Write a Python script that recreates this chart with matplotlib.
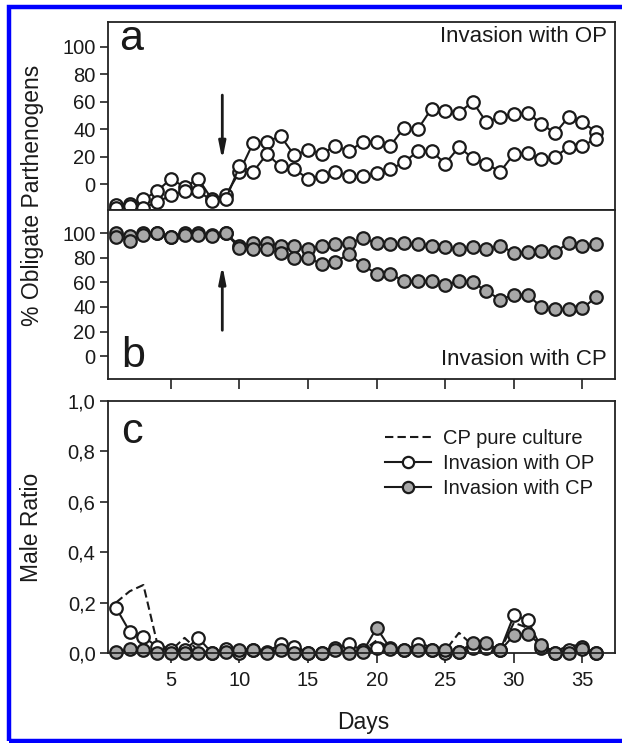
import matplotlib
matplotlib.use("Agg")
import matplotlib.pyplot as plt
from matplotlib.patches import Rectangle

plt.rcParams['font.family'] = ['Liberation Sans', 'DejaVu Sans']

days = list(range(1, 37))

# panel a: % obligate parthenogens, invasion with OP (two replicates)
op_high = [-15, -14, -11, -5, 4, -2, 4, -11, -8, 9, 30, 31, 35, 21, 25, 22, 28, 24,
           31, 31, 28, 41, 40, 55, 53, 52, 60, 45, 49, 51, 52, 44, 37, 49, 45, 38]
op_low = [-17, -16, -17, -13, -8, -5, -5, -12, -11, 13, 9, 22, 13, 11, 4, 6, 9, 6,
          6, 8, 11, 16, 24, 24, 15, 27, 19, 15, 9, 22, 23, 18, 20, 27, 28, 33]

# panel b: % obligate parthenogens, invasion with CP (two replicates)
cp_high = [100, 98, 100, 100, 97, 100, 100, 99, 100, 90, 92, 92, 90, 90, 87, 90, 91, 92,
           96, 92, 91, 92, 91, 90, 89, 87, 89, 87, 90, 84, 85, 86, 85, 92, 90, 91]
cp_low = [97, 94, 99, 100, 97, 99, 99, 98, 100, 88, 87, 87, 84, 80, 80, 75, 77, 83,
          74, 67, 67, 61, 61, 61, 58, 61, 60, 53, 46, 50, 50, 40, 38, 38, 39, 48]

# panel c: male ratio
male_cp_pure = [0.20, 0.245, 0.27, 0.04, 0.01, 0.06, 0.01, 0.0, 0.01, 0.02, 0.01, 0.005,
                0.03, 0.03, 0.0, 0.0, 0.03, 0.02, 0.01, 0.05, 0.02, 0.01, 0.045, 0.02,
                0.01, 0.08, 0.03, 0.02, 0.01, 0.12, 0.10, 0.03, 0.005, 0.03, 0.03, 0.01]
male_op = [0.18, 0.085, 0.065, 0.025, 0.01, 0.01, 0.06, 0.0, 0.015, 0.0, 0.01, 0.005,
           0.035, 0.025, 0.0, 0.0, 0.02, 0.035, 0.01, 0.02, 0.02, 0.01, 0.035, 0.01,
           0.0, 0.005, 0.02, 0.02, 0.01, 0.15, 0.13, 0.02, 0.0, 0.01, 0.025, 0.0]
male_cp = [0.005, 0.015, 0.012, 0.0, 0.0, 0.0, 0.0, 0.0, 0.005, 0.013, 0.012, 0.0,
           0.013, 0.0, 0.0, 0.0, 0.01, 0.0, 0.005, 0.10, 0.017, 0.01, 0.01, 0.01,
           0.01, 0.005, 0.04, 0.04, 0.01, 0.07, 0.077, 0.03, 0.0, 0.0, 0.015, 0.0]

pct_ticks = [0, 20, 40, 60, 80, 100]
ratio_ticks = [0.0, 0.2, 0.4, 0.6, 0.8, 1.0]
ratio_labels = ["0,0", "0,2", "0,4", "0,6", "0,8", "1,0"]
day_ticks = [5, 10, 15, 20, 25, 30, 35]

W, H = 622, 743
INK = '#1a1a1a'
GREY = '#a8a8a8'
fig = plt.figure(figsize=(W / 100, H / 100), dpi=100)


def box(top, bottom):
    return [108 / W, 1 - bottom / H, 507 / W, (bottom - top) / H]


ax_a = fig.add_axes(box(22, 210))
ax_b = fig.add_axes(box(210, 379))
ax_c = fig.add_axes(box(401, 653))

for ax in (ax_a, ax_b, ax_c):
    for sp in ax.spines.values():
        sp.set_linewidth(1.3)
        sp.set_color('#222222')
    ax.tick_params(direction='out', length=6, width=1.2, color='#222222',
                   labelsize=14.5, labelcolor=INK, pad=3)
    ax.set_xlim(0.42, 37.37)

line_kw = dict(color=INK, lw=1.5, marker='o', ms=9, mew=1.6, mec=INK, clip_on=False)
arrow_kw = dict(arrowstyle='-|>,head_length=1.0,head_width=0.2',
                lw=2, color=INK, shrinkA=0, shrinkB=0)

# panel a
ax_a.plot(days, op_high, mfc='white', **line_kw)
ax_a.plot(days, op_low, mfc='white', **line_kw)
ax_a.set_ylim(-18.7, 117.9)
ax_a.set_yticks(pct_ticks)
ax_a.set_xticks([])
ax_a.text(0.022, 0.851, 'a', transform=ax_a.transAxes, fontsize=31, color=INK)
ax_a.text(0.984, 0.894, 'Invasion with OP', transform=ax_a.transAxes, ha='right',
          fontsize=16, color=INK)
ax_a.annotate('', xy=(8.75, 17.6), xytext=(8.75, 64.8), arrowprops=arrow_kw)

# panel b
ax_b.plot(days, cp_high, mfc=GREY, **line_kw)
ax_b.plot(days, cp_low, mfc=GREY, **line_kw)
ax_b.set_ylim(-18.7, 119)
ax_b.set_yticks(pct_ticks)
ax_b.set_xticks(day_ticks)
ax_b.tick_params(axis='x', labelbottom=False, length=7)
ax_b.text(0.026, 0.071, 'b', transform=ax_b.transAxes, fontsize=31, color=INK)
ax_b.text(0.984, 0.083, 'Invasion with CP', transform=ax_b.transAxes, ha='right',
          fontsize=16, color=INK)
ax_b.annotate('', xy=(8.75, 74), xytext=(8.75, 21), arrowprops=arrow_kw)

# panel c
ax_c.plot(days, male_cp_pure, color=INK, lw=1.5, dashes=(4, 2), clip_on=False,
          label='CP pure culture')
ax_c.plot(days, male_op, mfc='white', label='Invasion with OP', **line_kw)
ax_c.plot(days, male_cp, mfc=GREY, label='Invasion with CP', **line_kw)
ax_c.set_ylim(0, 1.0)
ax_c.set_yticks(ratio_ticks)
ax_c.set_yticklabels(ratio_labels)
ax_c.set_xticks(day_ticks)
ax_c.tick_params(axis='x', length=7, pad=6)
ax_c.text(0.026, 0.833, 'c', transform=ax_c.transAxes, fontsize=31, color=INK)
leg = ax_c.legend(loc='upper left', bbox_to_anchor=((385 - 108) / 507, 0.888),
                  frameon=False, fontsize=14.5, handlelength=2.3, handletextpad=0.6,
                  labelspacing=0.3, borderpad=0, borderaxespad=0, markerscale=0.9)
for t in leg.get_texts():
    t.set_color(INK)

fig.text(33 / W, 1 - 195 / H, '% Obligate Parthenogens', rotation=90, ha='center',
         va='center', fontsize=16.5, color=INK)
fig.text(31 / W, 1 - 527 / H, 'Male Ratio', rotation=90, ha='center', va='center',
         fontsize=16.5, color=INK)
fig.text(363 / W, 1 - 722 / H, 'Days', ha='center', va='center', fontsize=16.5, color=INK)

# blue frame around the figure
fig.patches.append(Rectangle((9 / W, 2 / H), 1.2, (741 - 7) / H, transform=fig.transFigure,
                             fill=False, ec='#0000ff', lw=3.2))

fig.savefig('out.png', dpi=100)
